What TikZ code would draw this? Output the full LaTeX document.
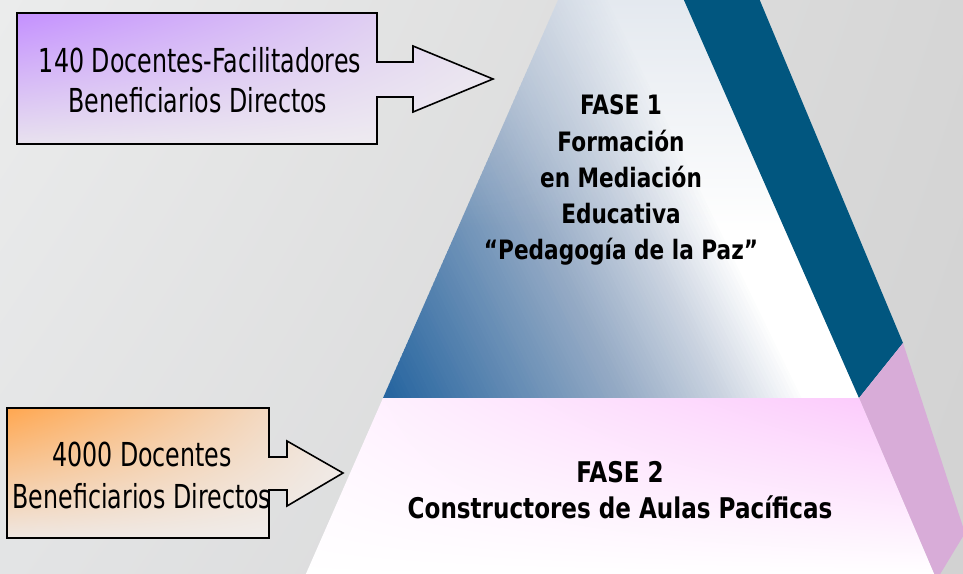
\documentclass[tikz,border=0pt]{standalone}
\usepackage{fontspec}
\usetikzlibrary{fadings,shadings}
\newfontfamily\boxfont{DejaVu Sans}[FakeStretch=0.72]
\newfontfamily\phasefont{DejaVu Sans Bold}[FakeStretch=0.81]
\definecolor{bandblue}{HTML}{01567F}
\definecolor{bandpink}{HTML}{D8ACD8}
\definecolor{f1blue}{HTML}{2866A0}
\definecolor{f1mid}{HTML}{93A9C4}
\definecolor{f1light}{HTML}{CAD3E0}
\definecolor{f1grey}{HTML}{C9D3E0}
\definecolor{f2pink}{HTML}{FBC6FB}
\definecolor{f2pinkL}{HTML}{FFF6FF}
\definecolor{bgA}{HTML}{EBECEC}
\definecolor{bgB}{HTML}{D6D6D6}
\definecolor{bgC}{HTML}{E3E4E5}
\definecolor{bgD}{HTML}{D2D2D2}
\definecolor{purp}{HTML}{C490FF}
\definecolor{purpL}{HTML}{E8E2EE}
\definecolor{purpW}{HTML}{F0EEF1}
\definecolor{orng}{HTML}{FFA750}
\definecolor{orngL}{HTML}{EFE7E2}
\definecolor{orngW}{HTML}{F0EEED}
\tikzfading[name=fadedown, top color=transparent!20, bottom color=transparent!100]
\tikzset{
  boxtext/.style={inner sep=0pt, anchor=base, font=\boxfont\fontsize{33}{36}\selectfont},
  phasetext/.style={inner sep=0pt, anchor=base, font=\phasefont\fontsize{26.7}{30}\selectfont},
  phasetextb/.style={inner sep=0pt, anchor=base, font=\phasefont\fontsize{28.5}{32}\selectfont},
  callout/.style={line width=1.6pt, draw=black, line join=miter}
}
\begin{document}
\begin{tikzpicture}[x=1pt,y=-1pt]
\useasboundingbox (0,0) rectangle (963,573);
% background
\shade[upper left=bgA, upper right=bgB, lower left=bgC, lower right=bgD] (0,0) rectangle (963,573);
% FASE 1 face
\begin{scope}
  \clip (621,-143) -- (383,398) -- (859,398) -- cycle;
  \begin{scope}[shift={(500,300)}, rotate=26]
    \fill[f1blue] (-700,-800) rectangle (-140,800);
    \foreach \i in {0,...,99} {
      \pgfmathsetmacro\ua{-141+3.7*\i}
      \pgfmathsetmacro\ub{\ua+4.4}
      \pgfmathtruncatemacro\tv{100-\i}
      \ifnum\tv>44
        \pgfmathtruncatemacro\w{(\tv-45)*100/55}
        \colorlet{stripc}{f1blue!\w!f1mid}
      \else\ifnum\tv>19
        \pgfmathtruncatemacro\w{(\tv-20)*4}
        \colorlet{stripc}{f1mid!\w!f1light}
      \else
        \pgfmathtruncatemacro\w{\tv*5}
        \colorlet{stripc}{f1light!\w!white}
      \fi\fi
      \fill[stripc] (\ua,-800) rectangle (\ub,800);
    }
    \fill[white] (228,-800) rectangle (900,800);
  \end{scope}
  \fill[f1grey, path fading=fadedown] (383,-143) rectangle (859,230);
\end{scope}
% blue side band
\fill[bandblue] (621,-143) -- (700,-143) -- (903,343) -- (859,398) -- cycle;
% pink side band
\fill[bandpink] (859,398) -- (903,343) -- (965,533) -- (939,576) -- (935,576) -- cycle;
% FASE 2 face
\shade[upper left=f2pinkL, upper right=f2pink, lower left=white, lower right=white]
  (383,398) -- (859,398) -- (935,576) -- (305,576) -- cycle;
% callout 1
\shade[callout, upper left=purp, upper right=purpL, lower left=purpL, lower right=purpW]
  (17,13) -- (377,13) -- (377,62) -- (413,62) -- (413,46) -- (493,79) -- (413,112) -- (413,97)
  -- (377,97) -- (377,144) -- (17,144) -- cycle;
% callout 2
\shade[callout, upper left=orng, upper right=orngL, lower left=orngL, lower right=orngW]
  (7,408) -- (269,408) -- (269,457) -- (287,457) -- (287,441) -- (343,473) -- (287,506) -- (287,490)
  -- (269,490) -- (269,538) -- (7,538) -- cycle;
% texts
\node[boxtext] (b1a) at (200,72) {140 Docentes-Facilitadores};
\node[boxtext] (b1b) at (198,112) {Beneficiarios Directos};
\node[boxtext] (b2a) at (142,466) {4000 Docentes};
\node[boxtext] (b2b) at (142,508) {Beneficiarios Directos};
\node[phasetext] (f1a) at (621,114) {FASE 1};
\node[phasetext] (f1b) at (621,151) {Formación};
\node[phasetext] (f1c) at (621,187) {en Mediación};
\node[phasetext] (f1d) at (621,223) {Educativa};
\node[phasetext] (f1e) at (621,259) {“Pedagogía de la Paz”};
\node[phasetextb] (f2a) at (620,482) {FASE 2};
\node[phasetextb] (f2b) at (620,518) {Constructores de Aulas Pacíficas};
\end{tikzpicture}
\end{document}
